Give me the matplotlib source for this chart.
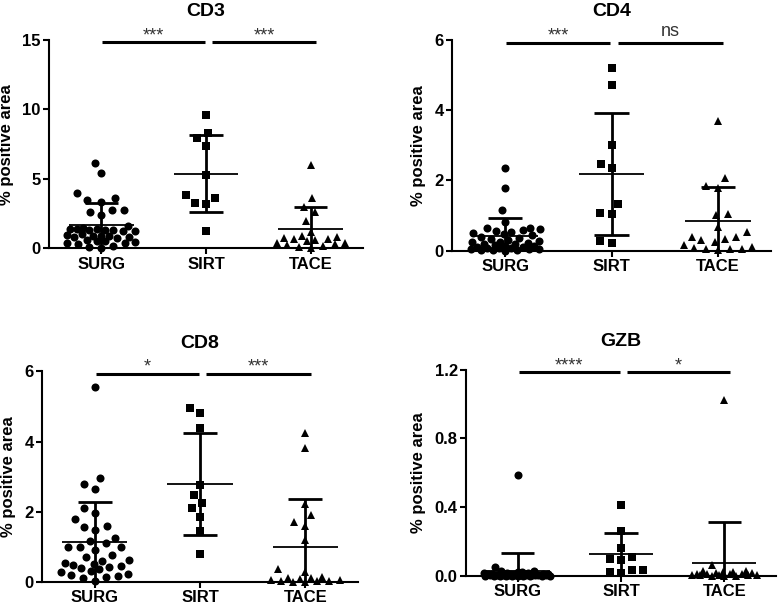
import numpy as np
import matplotlib
matplotlib.use("Agg")
import matplotlib.pyplot as plt
from matplotlib.ticker import FormatStrFormatter

plt.rcParams['font.family'] = ['Liberation Sans', 'DejaVu Sans']

# ---------------- data ----------------
groups = ['SURG', 'SIRT', 'TACE']
titles = ['CD3', 'CD4', 'CD8', 'GZB']

cd3_surg = [6.17, 5.45, 3.96, 3.6, 3.48, 3.3, 2.76, 2.76, 2.64, 2.4, 1.62, 1.45, 1.4,
            1.38, 1.36, 1.35, 1.33, 1.3, 1.28, 1.25, 1.0, 0.95, 0.9, 0.88, 0.85, 0.8,
            0.78, 0.75, 0.6, 0.55, 0.5, 0.45, 0.4, 0.35, 0.3, 0.2, 0.1, 0.05]
cd3_sirt = [9.6, 8.28, 7.92, 7.39, 5.28, 3.84, 3.65, 3.29, 3.19, 1.27]
cd3_tace = [5.98, 3.65, 3.0, 2.6, 2.0, 1.2, 0.9, 0.8, 0.75, 0.7, 0.65, 0.6, 0.5, 0.4,
            0.35, 0.3, 0.25, 0.2, 0.1, 0.05]

cd4_surg = [2.36, 1.78, 1.16, 0.83, 0.66, 0.64, 0.62, 0.58, 0.56, 0.52, 0.5, 0.47, 0.44,
            0.40, 0.36, 0.33, 0.30, 0.28, 0.26, 0.24, 0.22, 0.20, 0.18, 0.16, 0.14, 0.12,
            0.11, 0.10, 0.09, 0.08, 0.07, 0.06, 0.05, 0.04, 0.03, 0.02, 0.01, 0.0]
cd4_sirt = [5.21, 4.72, 3.01, 2.46, 2.35, 1.32, 1.08, 1.05, 0.28, 0.21]
cd4_tace = [3.70, 2.06, 1.84, 1.78, 1.05, 1.02, 0.68, 0.54, 0.40, 0.40, 0.32, 0.30, 0.25,
            0.16, 0.10, 0.08, 0.06, 0.05, 0.04, 0.02]

cd8_surg = [5.56, 2.95, 2.78, 2.64, 2.12, 1.97, 1.79, 1.60, 1.56, 1.48, 1.24, 1.17, 1.10,
            1.0, 1.0, 1.0, 0.92, 0.77, 0.70, 0.63, 0.60, 0.55, 0.50, 0.48, 0.46, 0.44,
            0.40, 0.36, 0.30, 0.28, 0.22, 0.20, 0.18, 0.15, 0.10, 0.03]
cd8_sirt = [4.95, 4.82, 4.38, 2.76, 2.48, 2.26, 2.10, 1.86, 1.46, 0.79]
cd8_tace = [4.24, 3.83, 2.21, 1.91, 1.70, 1.60, 1.20, 0.36, 0.29, 0.15, 0.12, 0.10, 0.08,
            0.06, 0.05, 0.04, 0.03, 0.02, 0.01, 0.0]

gzb_surg = [0.587, 0.05, 0.03, 0.025, 0.02, 0.02, 0.018, 0.015, 0.015, 0.012, 0.01, 0.01,
            0.01, 0.008, 0.008, 0.006, 0.006, 0.005, 0.005, 0.004, 0.004, 0.003, 0.003,
            0.002, 0.002, 0.002, 0.001, 0.001, 0.001, 0.0, 0.0, 0.0, 0.0, 0.0, 0.0, 0.0]
gzb_sirt = [0.41, 0.26, 0.16, 0.11, 0.10, 0.09, 0.035, 0.035, 0.02, 0.015]
gzb_tace = [1.023, 0.06, 0.03, 0.025, 0.02, 0.02, 0.015, 0.015, 0.01, 0.01, 0.01, 0.008,
            0.005, 0.005, 0.004, 0.003, 0.002, 0.001, 0.0, 0.0]

# mean and SD as drawn
cd3_mean = [1.65, 5.38, 1.42]
cd3_sd = [1.60, 2.80, 1.53]
cd4_mean = [0.42, 2.18, 0.85]
cd4_sd = [0.50, 1.74, 0.96]
cd8_mean = [1.15, 2.78, 1.01]
cd8_sd = [1.14, 1.45, 1.35]
gzb_mean = [0.027, 0.124, 0.072]
gzb_sd = [0.105, 0.125, 0.240]

cd3_sig = ['***', '***']
cd4_sig = ['***', 'ns']
cd8_sig = ['*', '***']
gzb_sig = ['****', '*']

cd3_yticks = [0, 5, 10, 15]
cd4_yticks = [0, 2, 4, 6]
cd8_yticks = [0, 2, 4, 6]
gzb_yticks = [0.0, 0.4, 0.8, 1.2]

panels = [
    dict(title='CD3', data=[cd3_surg, cd3_sirt, cd3_tace], mean=cd3_mean, sd=cd3_sd,
         sig=cd3_sig, yticks=cd3_yticks, fmt=None,
         rect=[49 / 778, (606 - 248.3) / 606, 314 / 778, 208.3 / 606]),
    dict(title='CD4', data=[cd4_surg, cd4_sirt, cd4_tace], mean=cd4_mean, sd=cd4_sd,
         sig=cd4_sig, yticks=cd4_yticks, fmt=None,
         rect=[452 / 778, (606 - 250.7) / 606, 319 / 778, 210.7 / 606]),
    dict(title='CD8', data=[cd8_surg, cd8_sirt, cd8_tace], mean=cd8_mean, sd=cd8_sd,
         sig=cd8_sig, yticks=cd8_yticks, fmt=None,
         rect=[42 / 778, (606 - 582) / 606, 316 / 778, 210.7 / 606]),
    dict(title='GZB', data=[gzb_surg, gzb_sirt, gzb_tace], mean=gzb_mean, sd=gzb_sd,
         sig=gzb_sig, yticks=gzb_yticks, fmt='%.1f',
         rect=[466 / 778, (606 - 575.7) / 606, 310 / 778, 206 / 606]),
]

markers = ['o', 's', '^']
msizes = [5.8, 5.3, 5.8]

DPI = 100
fig = plt.figure(figsize=(7.78, 6.06), dpi=DPI)


def best_position(placed, y, dd):
    cands = [0.0]
    for (px, py) in placed:
        dy = abs(py - y)
        if dy < dd:
            dx = np.sqrt(dd * dd - dy * dy)
            cands += [px - dx, px + dx]
    cands.sort(key=lambda c: (abs(c), c))
    for c in cands:
        ok = True
        for (px, py) in placed:
            if (c - px) ** 2 + (y - py) ** 2 < dd * dd - 1e-6:
                ok = False
                break
        if ok:
            return c
    return cands[-1]


def swarm_offsets(ax, xc, vals, d, max_w):
    """Beeswarm layout in pixel space (local squeeze when too wide)."""
    vals = np.asarray(vals, float)
    pts = ax.transData.transform(np.column_stack([np.full(len(vals), xc), vals]))
    ys = pts[:, 1]
    x0 = pts[0, 0]
    order = np.argsort(ys, kind='stable')
    placed = []
    xs = np.zeros(len(vals))
    for i in order:
        y = ys[i]
        dd = d
        c = best_position(placed, y, dd)
        while abs(c) > max_w and dd > 1.0:
            dd *= 0.85
            c = best_position(placed, y, dd)
        c = float(np.clip(c, -max_w, max_w))
        placed.append((c, y))
        xs[i] = c
    inv = ax.transData.inverted()
    out = inv.transform(np.column_stack([x0 + xs, ys]))
    return out[:, 0]


for p in panels:
    ax = fig.add_axes(p['rect'])
    ymax = p['yticks'][-1]
    ax.set_xlim(-0.5, 2.5)
    ax.set_ylim(0, ymax)
    for s in ['top', 'right']:
        ax.spines[s].set_visible(False)
    for s in ['left', 'bottom']:
        ax.spines[s].set_linewidth(1.5)
    ax.set_xticks(range(3))
    ax.set_xticklabels(groups, fontsize=12, fontweight='bold')
    ax.set_yticks(p['yticks'])
    if p['fmt']:
        ax.yaxis.set_major_formatter(FormatStrFormatter(p['fmt']))
    for lab in ax.get_yticklabels():
        lab.set_fontweight('bold')
        lab.set_fontsize(12)
    ax.tick_params(axis='y', direction='out', length=4, width=1.5, pad=2)
    ax.tick_params(axis='x', direction='out', length=4, width=1.5, pad=2)
    ax.set_ylabel('% positive area', fontsize=12, fontweight='bold', labelpad=6)
    ax.set_title(p['title'], fontsize=14, fontweight='bold', pad=17)

    bbox = ax.get_window_extent()
    px_per_cat = bbox.width / 3.0
    for gi, vals in enumerate(p['data']):
        ms = msizes[gi]
        d = ms * DPI / 72.0 + 4.0
        xs = swarm_offsets(ax, gi, vals, d, 0.33 * px_per_cat)
        ax.plot(xs, vals, linestyle='none', marker=markers[gi], markersize=ms,
                color='black', markeredgewidth=0, clip_on=False, zorder=3)
        m = p['mean'][gi]
        s = p['sd'][gi]
        ax.plot([gi - 0.31, gi + 0.31], [m, m], color='black', lw=1.3,
                solid_capstyle='butt', zorder=4)
        ax.plot([gi, gi], [m - s, m + s], color='black', lw=2.0,
                solid_capstyle='butt', zorder=4)
        for yy in (m - s, m + s):
            ax.plot([gi - 0.16, gi + 0.16], [yy, yy], color='black', lw=2.0,
                    solid_capstyle='butt', zorder=4)

    ybar = 0.988 * ymax
    spans = [(0.01, 0.99), (1.06, 2.05)]
    for (x1, x2), lab in zip(spans, p['sig']):
        ax.plot([x1, x2], [ybar, ybar], color='black', lw=2.2,
                solid_capstyle='butt', clip_on=False)
        off = 5 if lab == 'ns' else 1.5
        ax.annotate(lab, xy=((x1 + x2) / 2, ybar), xytext=(0, off),
                    textcoords='offset points', ha='center', va='baseline',
                    fontsize=13, color='#333333', annotation_clip=False)

fig.savefig('out.png', dpi=DPI)
